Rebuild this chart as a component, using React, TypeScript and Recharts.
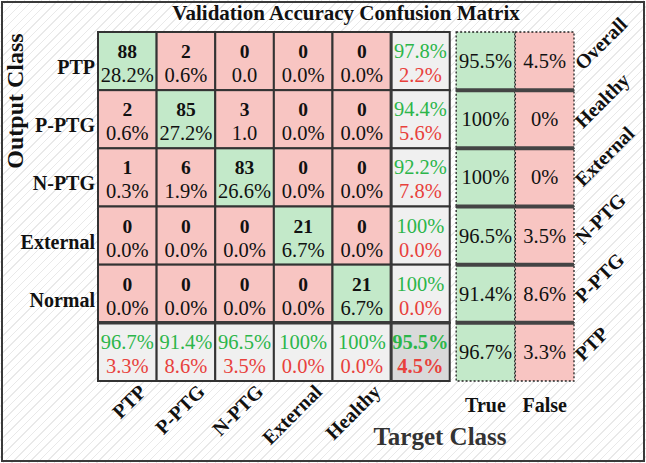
import { ScatterChart, Scatter, XAxis, YAxis } from 'recharts';

const outputClasses = ['PTP', 'P-PTG', 'N-PTG', 'External', 'Normal'];
const targetClasses = ['PTP', 'P-PTG', 'N-PTG', 'External', 'Healthy'];
const counts = [
  [88, 2, 0, 0, 0],
  [2, 85, 3, 0, 0],
  [1, 6, 83, 0, 0],
  [0, 0, 0, 21, 0],
  [0, 0, 0, 0, 21],
];
const cellPercents = [
  ['28.2%', '0.6%', '0.0', '0.0%', '0.0%'],
  ['0.6%', '27.2%', '1.0', '0.0%', '0.0%'],
  ['0.3%', '1.9%', '26.6%', '0.0%', '0.0%'],
  ['0.0%', '0.0%', '0.0%', '6.7%', '0.0%'],
  ['0.0%', '0.0%', '0.0%', '0.0%', '6.7%'],
];
const rowGood = ['97.8%', '94.4%', '92.2%', '100%', '100%'];
const rowBad = ['2.2%', '5.6%', '7.8%', '0.0%', '0.0%'];
const colGood = ['96.7%', '91.4%', '96.5%', '100%', '100%'];
const colBad = ['3.3%', '8.6%', '3.5%', '0.0%', '0.0%'];
const overallGood = '95.5%';
const overallBad = '4.5%';

const panelClasses = ['Overall', 'Healthy', 'External', 'N-PTG', 'P-PTG', 'PTP'];
const panelTrue = ['95.5%', '100%', '100%', '96.5%', '91.4%', '96.7%'];
const panelFalse = ['4.5%', '0%', '0%', '3.5%', '8.6%', '3.3%'];
const panelColumns = ['True', 'False'];
const panelX = [6.11, 7.12];

const W = 646;
const H = 463;
const LEFT = 98;
const RIGHT = 72;
const TOP = 32;
const BOTTOM = 82;
const X_DOMAIN = [-0.5, 7.62];
const Y_DOMAIN = [-0.5, 5.5];
const UW = (W - LEFT - RIGHT) / (X_DOMAIN[1] - X_DOMAIN[0]);
const UH = (H - TOP - BOTTOM) / (Y_DOMAIN[1] - Y_DOMAIN[0]);

const FONT = "'Liberation Serif', serif";
const GREEN = '#c3e9c9';
const RED = '#f8c5c2';
const GRAY = '#f0f0f0';
const DARK_GRAY = '#d9d9d9';
const GREEN_TEXT = '#2cb64a';
const RED_TEXT = '#e8413c';

const matrixData: any[] = [];
outputClasses.forEach((_, r) => {
  targetClasses.forEach((_, c) => {
    matrixData.push({
      x: c,
      y: r,
      kind: r === c ? 'diag' : 'off',
      top: String(counts[r][c]),
      bottom: cellPercents[r][c],
    });
  });
  matrixData.push({ x: 5, y: r, kind: 'sumCol', top: rowGood[r], bottom: rowBad[r] });
});
targetClasses.forEach((_, c) => {
  matrixData.push({ x: c, y: 5, kind: 'sumRow', top: colGood[c], bottom: colBad[c] });
});
matrixData.push({ x: 5, y: 5, kind: 'total', top: overallGood, bottom: overallBad });

const panelData: any[] = [];
panelClasses.forEach((_, r) => {
  panelData.push({ x: panelX[0], y: r, kind: 'true', value: panelTrue[r] });
  panelData.push({ x: panelX[1], y: r, kind: 'false', value: panelFalse[r] });
});

const MatrixCell = (props: any) => {
  const { cx, cy, payload } = props;
  const { kind, top, bottom } = payload;
  const fill =
    kind === 'diag' ? GREEN : kind === 'off' ? RED : kind === 'total' ? DARK_GRAY : GRAY;
  const isSum = kind === 'sumCol' || kind === 'sumRow' || kind === 'total';
  const x0 = cx - UW / 2;
  const y0 = cy - UH / 2;
  return (
    <g>
      <rect x={x0} y={y0} width={UW} height={UH} fill={fill} stroke="#333" strokeWidth={2} />
      {(kind === 'sumCol' || kind === 'total') && (
        <line x1={x0} x2={x0} y1={y0} y2={y0 + UH} stroke="#3a3a3a" strokeWidth={3} />
      )}
      {(kind === 'sumRow' || kind === 'total') && (
        <line x1={x0} x2={x0 + UW} y1={y0} y2={y0} stroke="#3a3a3a" strokeWidth={3.5} />
      )}
      <text
        x={cx}
        y={cy - 3}
        textAnchor="middle"
        fontFamily={FONT}
        fontSize={isSum ? 20.5 : 19.5}
        fontWeight={isSum && kind !== 'total' ? 'normal' : 'bold'}
        fill={isSum ? GREEN_TEXT : '#111'}
      >
        {top}
      </text>
      <text
        x={cx}
        y={cy + 21}
        textAnchor="middle"
        fontFamily={FONT}
        fontSize={20.5}
        fontWeight={kind === 'total' ? 'bold' : 'normal'}
        fill={isSum ? RED_TEXT : '#111'}
      >
        {bottom}
      </text>
    </g>
  );
};

const PanelCell = (props: any) => {
  const { cx, cy, payload } = props;
  const x0 = cx - UW / 2;
  const y0 = cy - UH / 2;
  return (
    <g>
      <rect
        x={x0}
        y={y0}
        width={UW}
        height={UH}
        fill={payload.kind === 'true' ? GREEN : RED}
        stroke="#222"
        strokeWidth={1.3}
        strokeDasharray="2 2"
      />
      {payload.y > 0 && (
        <line x1={x0} x2={x0 + UW} y1={y0} y2={y0} stroke="#444" strokeWidth={4} />
      )}
      <text x={cx} y={cy + 7} textAnchor="middle" fontFamily={FONT} fontSize={20.5} fill="#111">
        {payload.value}
      </text>
    </g>
  );
};

const RowTick = (props: any) => {
  const { x, y, payload } = props;
  return (
    <text x={x - 3} y={y + 13} textAnchor="end" fontFamily={FONT} fontSize={20} fontWeight="bold" fill="#111">
      {outputClasses[payload.value]}
    </text>
  );
};

const PanelTick = (props: any) => {
  const { x, y, payload } = props;
  const tx = x + 9;
  const ty = y + 10;
  return (
    <text
      x={tx}
      y={ty}
      textAnchor="start"
      fontFamily={FONT}
      fontSize={20}
      fontWeight="bold"
      fill="#111"
      transform={`rotate(-45 ${tx} ${ty})`}
    >
      {panelClasses[payload.value]}
    </text>
  );
};

const ColTick = (props: any) => {
  const { x, y, payload } = props;
  const pi = panelX.indexOf(payload.value);
  if (pi >= 0) {
    return (
      <text x={x} y={y + 31} textAnchor="middle" fontFamily={FONT} fontSize={20} fontWeight="bold" fill="#111">
        {panelColumns[pi]}
      </text>
    );
  }
  const tx = x + 20;
  const ty = y + 12;
  return (
    <text
      x={tx}
      y={ty}
      textAnchor="end"
      fontFamily={FONT}
      fontSize={20}
      fontWeight="bold"
      fill="#111"
      transform={`rotate(-45 ${tx} ${ty})`}
    >
      {targetClasses[payload.value]}
    </text>
  );
};

export default function App() {
  return (
    <div
      style={{
        position: 'fixed',
        left: 0,
        top: 0,
        width: W,
        height: H,
        background:
          'repeating-linear-gradient(135deg, #ffffff 0px, #ffffff 5px, #e9e9e9 5px, #e9e9e9 6px)',
        fontFamily: FONT,
      }}
    >
      <ScatterChart width={W} height={H} margin={{ top: TOP, right: 0, bottom: 0, left: 0 }}>
        <XAxis
          type="number"
          dataKey="x"
          domain={X_DOMAIN}
          ticks={[0, 1, 2, 3, 4, ...panelX]}
          interval={0}
          height={BOTTOM}
          axisLine={false}
          tickLine={false}
          tickSize={0}
          tickMargin={0}
          tick={<ColTick />}
        />
        <YAxis
          yAxisId="main"
          type="number"
          dataKey="y"
          domain={Y_DOMAIN}
          reversed
          ticks={[0, 1, 2, 3, 4]}
          interval={0}
          width={LEFT}
          axisLine={false}
          tickLine={false}
          tickSize={0}
          tickMargin={0}
          tick={<RowTick />}
        />
        <YAxis
          yAxisId="panel"
          orientation="right"
          type="number"
          dataKey="y"
          domain={Y_DOMAIN}
          reversed
          ticks={[0, 1, 2, 3, 4, 5]}
          interval={0}
          width={RIGHT}
          axisLine={false}
          tickLine={false}
          tickSize={0}
          tickMargin={0}
          tick={<PanelTick />}
        />
        <Scatter yAxisId="main" data={matrixData} shape={MatrixCell} isAnimationActive={false} />
        <Scatter yAxisId="panel" data={panelData} shape={PanelCell} isAnimationActive={false} />
      </ScatterChart>
      <div
        style={{
          position: 'absolute',
          left: 346,
          top: 3,
          transform: 'translateX(-50%)',
          whiteSpace: 'nowrap',
          fontSize: 21,
          lineHeight: 1,
          fontWeight: 'bold',
          color: '#111',
        }}
      >
        Validation Accuracy Confusion Matrix
      </div>
      <div
        style={{
          position: 'absolute',
          left: 440,
          top: 424,
          transform: 'translateX(-50%)',
          whiteSpace: 'nowrap',
          fontSize: 25,
          lineHeight: 1,
          fontWeight: 'bold',
          color: '#333',
        }}
      >
        Target Class
      </div>
      <div
        style={{
          position: 'absolute',
          left: 15,
          top: 101,
          transform: 'translate(-50%, -50%) rotate(-90deg)',
          whiteSpace: 'nowrap',
          fontSize: 24,
          lineHeight: 1,
          fontWeight: 'bold',
          color: '#111',
        }}
      >
        Output Class
      </div>
      <div
        style={{
          position: 'absolute',
          left: 1,
          top: 1,
          width: W - 2,
          height: H - 2,
          boxSizing: 'border-box',
          border: '2px solid #3a3a3a',
          pointerEvents: 'none',
        }}
      />
    </div>
  );
}
